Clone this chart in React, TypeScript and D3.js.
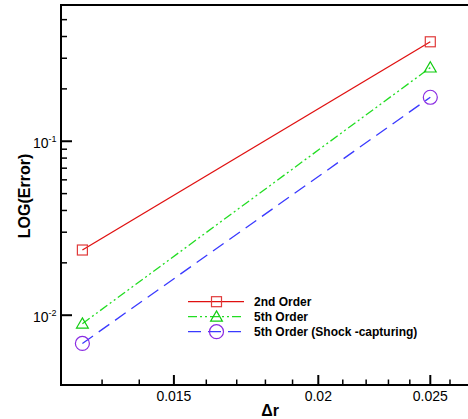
import React from "react";
import * as d3 from "d3";

const deltaR = [0.0125, 0.025];
const secondOrder = [0.0237, 0.373];
const fifthOrder = [0.00894, 0.265];
const fifthShock = [0.00688, 0.179];
const seriesNames = ["2nd Order", "5th Order", "5th Order (Shock -capturing)"];
const xMajorTicks = [0.015, 0.02, 0.025];
const xTickLabels = ["0.015", "0.02", "0.025"];
const xMinorTicks = [0.013, 0.014, 0.016, 0.017, 0.018, 0.019, 0.021, 0.022, 0.023, 0.024, 0.026];
const yMajorTicks = [0.01, 0.1];
const yTickExponents = ["-2", "-1"];
const yMinorTicks = [0.02, 0.03, 0.04, 0.05, 0.06, 0.07, 0.08, 0.09, 0.2, 0.3, 0.4, 0.5];

const W = 468, H = 419;
const left = 61, top = 5, bottom = 385;

export default function App() {
  const x = d3.scaleLog().domain([0.012, 0.025]).range([61.9, 430.3]);
  const y = d3.scaleLog().domain([0.00397, 0.607]).range([bottom, top]);

  const styles = [
    { line: "#e01010", marker: "#e03a3a", dash: "none", type: "square" },
    { line: "#22dd22", marker: "#11cc11", dash: "9,3,2,3,2,3", type: "triangle" },
    { line: "#3a3aff", marker: "#8a2be2", dash: "13,7", type: "circle" },
  ];
  const data = [secondOrder, fifthOrder, fifthShock];

  const lineGen = d3.line<number>().x((_, i) => x(deltaR[i])).y((d) => y(d));

  const marker = (type: string, cx: number, cy: number, color: string, key: string) => {
    if (type === "square")
      return <rect key={key} x={cx - 5} y={cy - 5} width={10} height={10} fill="none" stroke={color} strokeWidth={1.2} />;
    if (type === "triangle") {
      const s = d3.symbol(d3.symbolTriangle, 60)();
      return <path key={key} d={s || ""} transform={`translate(${cx},${cy + 1})`} fill="none" stroke={color} strokeWidth={1.2} />;
    }
    return <circle key={key} cx={cx} cy={cy} r={7} fill="none" stroke={color} strokeWidth={1.2} />;
  };

  const legendX0 = 188, legendX1 = 244, legendMid = 216.5, legendText = 254;
  const legendY = [301.7, 316.7, 331.7];

  return (
    <svg width={W} height={H} style={{ position: "absolute", left: 0, top: 0, background: "#fff" }} fontFamily="'Liberation Sans', Arial, sans-serif">
      <rect width={W} height={H} fill="#fff" />
      {data.map((vals, si) => (
        <g key={si}>
          <path d={lineGen(vals) || ""} fill="none" stroke={styles[si].line} strokeWidth={1.3} strokeDasharray={styles[si].dash} />
          {vals.map((v, i) => marker(styles[si].type, x(deltaR[i]), y(v), styles[si].marker, `m${si}-${i}`))}
        </g>
      ))}
      <line x1={left} x2={W} y1={top} y2={top} stroke="#000" strokeWidth={2} />
      <line x1={left} x2={left} y1={top - 1} y2={bottom + 1} stroke="#000" strokeWidth={2} />
      <line x1={left - 1} x2={W} y1={bottom} y2={bottom} stroke="#000" strokeWidth={2} />
      {xMajorTicks.map((t, i) => (
        <g key={`xm${i}`}>
          <line x1={x(t)} x2={x(t)} y1={bottom} y2={bottom - 10} stroke="#000" strokeWidth={2} />
          <text x={x(t)} y={400.5} fontSize={14} textAnchor="middle" fill="#000">{xTickLabels[i]}</text>
        </g>
      ))}
      {xMinorTicks.map((t, i) => (
        <line key={`xn${i}`} x1={x(t)} x2={x(t)} y1={bottom} y2={bottom - 5.5} stroke="#000" strokeWidth={1.5} />
      ))}
      {yMajorTicks.map((t, i) => (
        <g key={`ym${i}`}>
          <line x1={left} x2={left + 11} y1={y(t)} y2={y(t)} stroke="#000" strokeWidth={2} />
          <text x={48.5} y={y(t) + 6.5} fontSize={14} textAnchor="end" fill="#000">10</text>
          <text x={48.5} y={y(t) + 0.5} fontSize={9} textAnchor="start" fill="#000">{yTickExponents[i]}</text>
        </g>
      ))}
      {yMinorTicks.map((t, i) => (
        <line key={`yn${i}`} x1={left} x2={left + 6} y1={y(t)} y2={y(t)} stroke="#000" strokeWidth={1.5} />
      ))}
      <text x={270} y={415.5} fontSize={16} fontWeight="bold" textAnchor="middle" fill="#000">Δr</text>
      <text transform="translate(30,196) rotate(-90)" fontSize={16} fontWeight="bold" textAnchor="middle" fill="#000">LOG(Error)</text>
      {seriesNames.map((name, i) => (
        <g key={`lg${i}`}>
          <line x1={legendX0} x2={legendX1} y1={legendY[i]} y2={legendY[i]} stroke={styles[i].line} strokeWidth={1.3} strokeDasharray={styles[i].dash} />
          {marker(styles[i].type, legendMid, legendY[i], styles[i].marker, `lm${i}`)}
          <text x={legendText} y={legendY[i] + 4.5} fontSize={12} fontWeight="bold" fill="#000">{name}</text>
        </g>
      ))}
    </svg>
  );
}
